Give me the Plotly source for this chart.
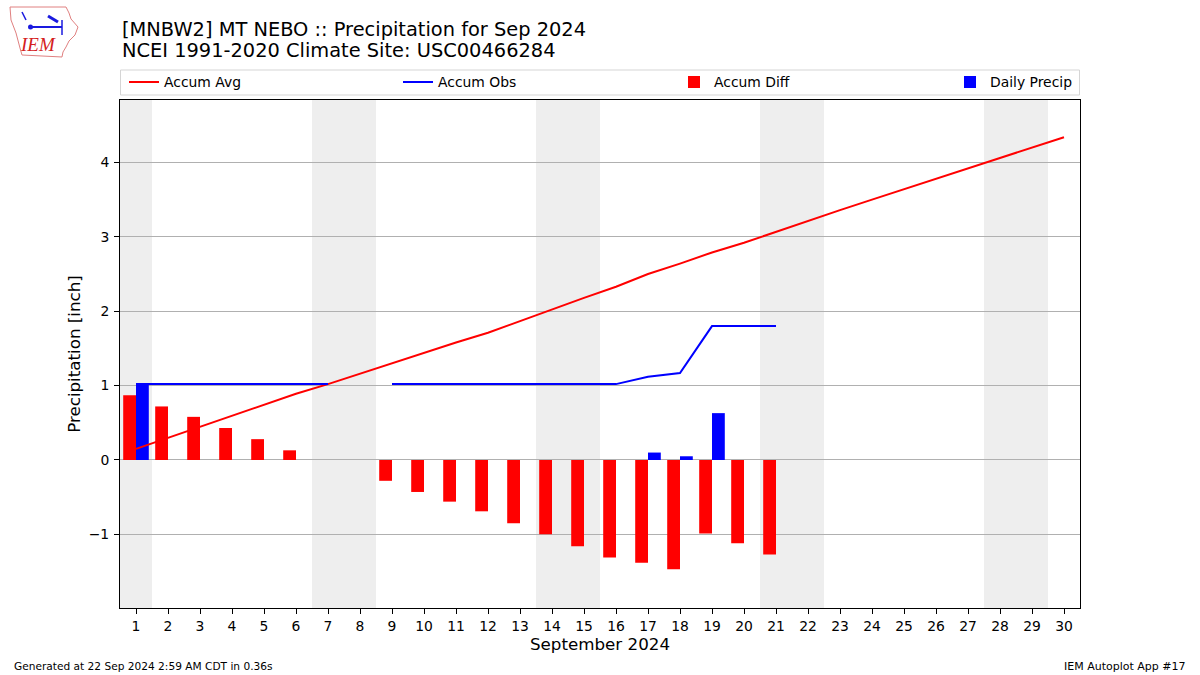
import datetime
import plotly.graph_objects as go

# ---------------- data ----------------
days = list(range(1, 31))
accum_avg = [0.15, 0.30, 0.44, 0.59, 0.74, 0.89, 1.02, 1.16, 1.30, 1.45,
             1.58, 1.71, 1.87, 2.02, 2.18, 2.33, 2.50, 2.64, 2.79, 2.92,
             3.07, 3.22, 3.36, 3.50, 3.64, 3.78, 3.92, 4.06, 4.20, 4.34]
obs_days = list(range(1, 22))
accum_obs = [1.02, 1.02, 1.02, 1.02, 1.02, 1.02, 1.02, None, 1.02, 1.02,
             1.02, 1.02, 1.02, 1.02, 1.02, 1.02, 1.12, 1.17, 1.80, 1.80, 1.80]
accum_diff = [0.87, 0.72, 0.58, 0.43, 0.28, 0.13, None, None, -0.28, -0.43,
              -0.56, -0.69, -0.85, -1.00, -1.16, -1.31, -1.38, -1.47, -0.99, -1.12, -1.27]
daily_precip = [1.02, 0, 0, 0, 0, 0, 0, None, 0, 0,
                0, 0, 0, 0, 0, 0, 0.10, 0.05, 0.63, 0, 0]
year, month = 2024, 9
x_ticks = list(range(1, 31))
y_ticks = [-1, 0, 1, 2, 3, 4]

title1 = "[MNBW2] MT NEBO :: Precipitation for Sep 2024"
title2 = "NCEI 1991-2020 Climate Site: USC00466284"
footer_left = "Generated at 22 Sep 2024 2:59 AM CDT in 0.36s"
footer_right = "IEM Autoplot App #17"

# ---------------- layout geometry ----------------
W, H = 1200, 675
L, R, T, B = 120, 1080, 100, 608
FONT = "DejaVu Sans"


def px(x):
    return (x - L) / (R - L)


def py(y):
    return (B - y) / (B - T)


fig = go.Figure()

fig.add_trace(go.Bar(x=obs_days, y=accum_diff, name="Accum Diff", marker_color="red",
                     marker_line_width=0, width=0.4, offset=-0.4, legend="legend3"))
fig.add_trace(go.Bar(x=obs_days, y=daily_precip, name="Daily Precip", marker_color="blue",
                     marker_line_width=0, width=0.4, offset=0.0, legend="legend4"))
fig.add_trace(go.Scatter(x=days, y=accum_avg, name="Accum Avg", mode="lines",
                         line=dict(color="red", width=2), legend="legend"))
fig.add_trace(go.Scatter(x=obs_days, y=accum_obs, name="Accum Obs", mode="lines",
                         line=dict(color="blue", width=2), connectgaps=False, legend="legend2"))

shapes = []
# weekend shading
for d in days:
    wd = datetime.date(year, month, d).weekday()
    if wd in (5, 6):
        shapes.append(dict(type="rect", xref="x", yref="paper", x0=d - 0.5, x1=d + 0.5,
                           y0=0, y1=1, fillcolor="#eeeeee", line_width=0, layer="below"))
# legend frame
shapes.append(dict(type="rect", xref="paper", yref="paper", x0=px(120.5), x1=px(1079.5),
                   y0=py(95), y1=py(70), line=dict(color="#d5d5d5", width=1),
                   fillcolor="rgba(255,255,255,0.8)", layer="above"))
# logo outline (approximate)
outline = [(10, 7), (66, 7), (69, 13), (71, 19), (78, 27), (75, 35), (69, 41), (66, 47),
           (63, 52), (62, 57), (22, 55), (20, 48), (16, 33), (11, 20), (10, 7)]
path = "M " + " L ".join(f"{px(a):.5f},{py(b):.5f}" for a, b in outline) + " Z"
shapes.append(dict(type="path", xref="paper", yref="paper", path=path,
                   line=dict(color="#e08080", width=1)))
shapes.append(dict(type="line", xref="paper", yref="paper", x0=px(30), x1=px(62),
                   y0=py(27), y1=py(27), line=dict(color="#1a1adf", width=2)))
shapes.append(dict(type="line", xref="paper", yref="paper", x0=px(48), x1=px(58),
                   y0=py(16), y1=py(22), line=dict(color="#1a1adf", width=3)))
shapes.append(dict(type="line", xref="paper", yref="paper", x0=px(62), x1=px(62),
                   y0=py(20), y1=py(35), line=dict(color="#1a1adf", width=1.5)))
shapes.append(dict(type="line", xref="paper", yref="paper", x0=px(22), x1=px(26),
                   y0=py(12), y1=py(20), line=dict(color="#1a1adf", width=1.5)))
shapes.append(dict(type="circle", xref="paper", yref="paper", x0=px(28), x1=px(33),
                   y0=py(24.5), y1=py(29.5), fillcolor="#1a1adf", line_width=0))

annotations = [
    dict(text=title1, x=0, y=py(29), xref="paper", yref="paper", xanchor="left",
         yanchor="middle", showarrow=False, font=dict(family=FONT, size=19.4, color="black")),
    dict(text=title2, x=0, y=py(51), xref="paper", yref="paper", xanchor="left",
         yanchor="middle", showarrow=False, font=dict(family=FONT, size=19.4, color="black")),
    dict(text=footer_left, x=px(12), y=py(666), xref="paper", yref="paper", xanchor="left",
         yanchor="middle", showarrow=False, font=dict(family=FONT, size=10.6, color="black")),
    dict(text=footer_right, x=px(1188), y=py(666), xref="paper", yref="paper", xanchor="right",
         yanchor="middle", showarrow=False, font=dict(family=FONT, size=11, color="black")),
    dict(text="<i>IEM</i>", x=px(38), y=py(45), xref="paper", yref="paper", xanchor="center",
         yanchor="middle", showarrow=False,
         font=dict(family="Liberation Serif", size=19, color="#d42020")),
]

leg_common = dict(orientation="h", yanchor="middle", xanchor="left", y=py(82.5),
                  bgcolor="rgba(0,0,0,0)", borderwidth=0,
                  font=dict(family=FONT, size=13.9, color="black"))

fig.update_layout(
    width=W, height=H,
    margin=dict(l=L, r=W - R, t=T, b=H - B, pad=0),
    paper_bgcolor="white", plot_bgcolor="white",
    barmode="overlay",
    font=dict(family=FONT, size=13.9, color="black"),
    showlegend=True,
    legend=dict(x=px(124), **leg_common),
    legend2=dict(x=px(398), **leg_common),
    legend3=dict(x=px(674), **leg_common),
    legend4=dict(x=px(950), **leg_common),
    shapes=shapes,
    annotations=annotations,
    xaxis=dict(range=[0.5, 30.5], tickmode="array", tickvals=x_ticks,
               ticktext=[str(t) for t in x_ticks], showgrid=False, zeroline=False,
               showline=True, linecolor="black", linewidth=1, mirror=True,
               ticks="outside", ticklen=5, tickcolor="black",
               tickfont=dict(family=FONT, size=13.9),
               title=dict(text="September 2024", font=dict(family=FONT, size=16.7), standoff=4)),
    yaxis=dict(range=[-1.99, 4.84], tickmode="array", tickvals=y_ticks,
               showgrid=True, gridcolor="#b0b0b0", gridwidth=1, zeroline=False,
               showline=True, linecolor="black", linewidth=1, mirror=True,
               ticks="outside", ticklen=5, tickcolor="black", ticklabelstandoff=2,
               tickfont=dict(family=FONT, size=13.9),
               title=dict(text="Precipitation [inch]", font=dict(family=FONT, size=16.7), standoff=3)),
)

fig.write_html("out.html", config={"displayModeBar": False},
               post_script="document.body.style.margin='0px';")
